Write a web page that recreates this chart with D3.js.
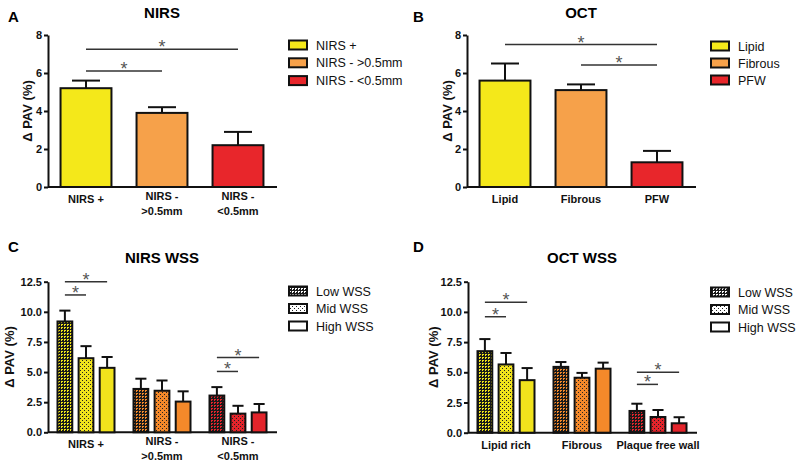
<!DOCTYPE html>
<html><head><meta charset="utf-8">
<script src="https://cdn.jsdelivr.net/npm/d3@7"></script>
<style>body{margin:0;background:#fff} text{font-family:Arial,"Liberation Sans",sans-serif}</style>
</head><body><svg id="c" width="800" height="467"></svg>
<script>
// ---------- DATA ----------
const catsA = ["NIRS +", "NIRS - >0.5mm", "NIRS - <0.5mm"];
const tickLinesA = [["NIRS +"], ["NIRS -", ">0.5mm"], ["NIRS -", "<0.5mm"]];
const legendA = ["NIRS +", "NIRS - >0.5mm", "NIRS - <0.5mm"];
const meanA = [5.2, 3.9, 2.2];
const semA = [0.4, 0.3, 0.7];
const sigA = [[0, 2, 7.25], [0, 1, 6.1]];

const catsB = ["Lipid", "Fibrous", "PFW"];
const tickLinesB = [["Lipid"], ["Fibrous"], ["PFW"]];
const legendB = ["Lipid", "Fibrous", "PFW"];
const meanB = [5.6, 5.1, 1.3];
const semB = [0.9, 0.3, 0.6];
const sigB = [[0, 2, 7.5], [1, 2, 6.42]];

const wssSeries = ["Low WSS", "Mid WSS", "High WSS"];

const catsC = ["NIRS +", "NIRS - >0.5mm", "NIRS - <0.5mm"];
const tickLinesC = [["NIRS +"], ["NIRS -", ">0.5mm"], ["NIRS -", "<0.5mm"]];
const lowC = [9.2, 3.6, 3.05];
const midC = [6.15, 3.45, 1.55];
const highC = [5.35, 2.55, 1.65];
const lowSemC = [0.9, 0.85, 0.7];
const midSemC = [1.0, 0.85, 0.65];
const highSemC = [0.9, 0.85, 0.7];
// [group, fromSeries, toSeries, y]
const sigC = [[0, 0, 2, 12.5], [0, 0, 1, 11.4], [2, 0, 2, 6.2], [2, 0, 1, 5.05]];

const catsD = ["Lipid rich", "Fibrous", "Plaque free wall"];
const tickLinesD = [["Lipid rich"], ["Fibrous"], ["Plaque free wall"]];
const lowD = [6.75, 5.45, 1.8];
const midD = [5.65, 4.55, 1.3];
const highD = [4.35, 5.3, 0.78];
const lowSemD = [1.0, 0.4, 0.6];
const midSemD = [0.95, 0.4, 0.58];
const highSemD = [1.0, 0.5, 0.5];
const sigD = [[0, 0, 2, 10.8], [0, 0, 1, 9.6], [2, 0, 2, 5.0], [2, 0, 1, 4.0]];

const ticks8 = [0, 2, 4, 6, 8];
const ticks125 = [0, 2.5, 5, 7.5, 10, 12.5];

// ---------- STYLE ----------
const colAB = ["#f4e81a", "#f6a14a", "#e8262b"];
const colCD = ["#f1e31c", "#f4892a", "#e3242b"];

const svg = d3.select("#c");
const defs = svg.append("defs");

function makePattern(id, base, type) {
  if (type === "low") {
    const p = defs.append("pattern").attr("id", id).attr("patternUnits", "userSpaceOnUse")
      .attr("width", 3).attr("height", 3);
    p.append("rect").attr("width", 3).attr("height", 3).attr("fill", "#1a1a1a");
    p.append("rect").attr("x", 1).attr("y", 1).attr("width", 2).attr("height", 1).attr("fill", base);
    p.append("rect").attr("x", 1).attr("y", 2).attr("width", 1).attr("height", 1).attr("fill", base);
  } else {
    const p = defs.append("pattern").attr("id", id).attr("patternUnits", "userSpaceOnUse")
      .attr("width", 4).attr("height", 4);
    p.append("rect").attr("width", 4).attr("height", 4).attr("fill", base);
    p.append("rect").attr("x", 0).attr("y", 0).attr("width", 1).attr("height", 1).attr("fill", "#222");
    p.append("rect").attr("x", 2).attr("y", 2).attr("width", 1).attr("height", 1).attr("fill", "#222");
  }
  return `url(#${id})`;
}

function wssFill(base, si, key) {
  if (si === 0) return makePattern("lo" + key, base, "low");
  if (si === 1) return makePattern("mi" + key, base, "mid");
  return base;
}

function drawPanel(p) {
  const g = svg.append("g").attr("transform", `translate(${p.ox},${p.oy})`);
  const x = d3.scaleBand().domain(p.cats).range(p.xRange).paddingInner(p.pin).paddingOuter(p.pout);
  const y = d3.scaleLinear().domain(p.yDomain).range(p.yRange);
  const grouped = p.series.length > 1;
  const xi = d3.scaleBand().domain(p.series.map(s => s.name)).range([0, x.bandwidth()]).paddingInner(0.3);

  // letter and title
  g.append("text").attr("x", p.letterX).attr("y", p.letterY).attr("font-size", 15)
    .attr("font-weight", "bold").text(p.letter);
  g.append("text").attr("x", (p.xRange[0] + p.xRange[1]) / 2 + 0).attr("y", p.titleY)
    .attr("text-anchor", "middle").attr("font-size", 15).attr("font-weight", "bold").text(p.title);

  // y axis
  const ya = g.append("g").attr("transform", `translate(${p.xRange[0]},0)`)
    .call(d3.axisLeft(y).tickValues(p.yTicks).tickFormat(p.yFormat).tickSize(4).tickPadding(2).tickSizeOuter(0));
  ya.selectAll("path,line").attr("stroke", "#111").attr("stroke-width", 2);
  ya.selectAll("text").attr("font-size", 11).attr("font-weight", "bold").attr("fill", "#111")
    .attr("font-family", "Arial, 'Liberation Sans', sans-serif");

  // x axis
  const xa = g.append("g").attr("transform", `translate(0,${p.yRange[0]})`)
    .call(d3.axisBottom(x).tickSize(0).tickSizeOuter(0).tickFormat(""));
  xa.select("path").attr("stroke", "#111").attr("stroke-width", 2)
    .attr("d", `M${p.xRange[0]},0H${p.xRange[1] + 1}`);
  p.cats.forEach((c, i) => {
    const lines = p.tickLines[i];
    const t = g.append("text").attr("text-anchor", "middle").attr("font-size", 11)
      .attr("font-weight", "bold").attr("fill", "#111");
    const base = lines.length > 1 ? p.yRange[0] + 13 : p.yRange[0] + 16;
    lines.forEach((l, k) => {
      t.append("tspan").attr("x", x(c) + x.bandwidth() / 2).attr("y", base + k * 14.5).text(l);
    });
  });

  // y label
  const ym = (p.yRange[0] + p.yRange[1]) / 2;
  g.append("text").attr("transform", `translate(${p.ylabX},${ym}) rotate(-90)`)
    .attr("text-anchor", "middle").attr("font-size", 13).attr("font-weight", "bold").attr("fill", "#111")
    .text("\u0394 PAV (%)");

  // bars
  p.series.forEach((s, si) => {
    p.cats.forEach((c, ci) => {
      const bx = grouped ? x(c) + xi(s.name) : x(c);
      const bw = grouped ? xi.bandwidth() : x.bandwidth();
      const v = s.values[ci], e = s.errs[ci];
      const cx = bx + bw / 2;
      const capW = grouped ? bw * 0.75 : bw * 0.55;
      g.append("line").attr("x1", cx).attr("x2", cx).attr("y1", y(v)).attr("y2", y(v + e))
        .attr("stroke", "#111").attr("stroke-width", 2);
      g.append("line").attr("x1", cx - capW / 2).attr("x2", cx + capW / 2).attr("y1", y(v + e)).attr("y2", y(v + e))
        .attr("stroke", "#111").attr("stroke-width", 2);
      g.append("rect").attr("x", bx).attr("y", y(v)).attr("width", bw).attr("height", y(0) - y(v))
        .attr("fill", s.fill(ci)).attr("stroke", "#111").attr("stroke-width", 2);
    });
  });

  // significance
  p.sig.forEach(sg => {
    let x1, x2, yy;
    if (grouped) {
      const c = p.cats[sg[0]];
      x1 = x(c) + xi(p.series[sg[1]].name) + xi.bandwidth() / 2;
      x2 = x(c) + xi(p.series[sg[2]].name) + xi.bandwidth() / 2;
      yy = y(sg[3]);
    } else {
      x1 = x(p.cats[sg[0]]) + x.bandwidth() / 2;
      x2 = x(p.cats[sg[1]]) + x.bandwidth() / 2;
      yy = y(sg[2]);
    }
    g.append("line").attr("x1", x1).attr("x2", x2).attr("y1", yy).attr("y2", yy)
      .attr("stroke", "#333").attr("stroke-width", 1.5);
    g.append("text").attr("x", (x1 + x2) / 2).attr("y", yy + 4).attr("text-anchor", "middle")
      .attr("font-size", 18).attr("fill", "#555").text("*");
  });

  // legend
  p.legend.forEach((l, i) => {
    const ly = p.legY + i * p.legStep;
    g.append("rect").attr("x", p.legX).attr("y", ly - 4.5).attr("width", 18).attr("height", 9)
      .attr("fill", l.fill).attr("stroke", "#111").attr("stroke-width", 2);
    g.append("text").attr("x", p.legX + 27).attr("y", ly + 4.5).attr("font-size", 12.5)
      .attr("fill", "#111").text(l.name);
  });
}

// Panel A
drawPanel({
  ox: 0, oy: 0, letter: "A", letterX: 8, letterY: 22, title: "NIRS", titleY: 18,
  cats: catsA, tickLines: tickLinesA, xRange: [48, 276], pin: 0.33, pout: 0.165,
  yDomain: [0, 8], yRange: [187, 35], yTicks: ticks8, yFormat: d3.format("d"), ylabX: 32,
  series: [{ name: "v", values: meanA, errs: semA, fill: i => colAB[i] }],
  sig: sigA,
  legend: legendA.map((n, i) => ({ name: n, fill: colAB[i] })), legX: 289, legY: 45, legStep: 17.8
});
// Panel B
drawPanel({
  ox: 400, oy: 0, letter: "B", letterX: 13, letterY: 22, title: "OCT", titleY: 18,
  cats: catsB, tickLines: tickLinesB, xRange: [67, 295], pin: 0.33, pout: 0.165,
  yDomain: [0, 8], yRange: [187, 35], yTicks: ticks8, yFormat: d3.format("d"), ylabX: 52,
  series: [{ name: "v", values: meanB, errs: semB, fill: i => colAB[i] }],
  sig: sigB,
  legend: legendB.map((n, i) => ({ name: n, fill: colAB[i] })), legX: 311, legY: 46, legStep: 17
});
// Panel C
const sC = [lowC, midC, highC], eC = [lowSemC, midSemC, highSemC];
drawPanel({
  ox: 0, oy: 230, letter: "C", letterX: 8, letterY: 22, title: "NIRS WSS", titleY: 33,
  cats: catsC, tickLines: tickLinesC, xRange: [48, 276], pin: 0.25, pout: 0.125,
  yDomain: [0, 12.5], yRange: [202.3, 51.7], yTicks: ticks125, yFormat: d3.format(".1f"), ylabX: 14,
  series: wssSeries.map((n, si) => ({ name: n, values: sC[si], errs: eC[si],
    fill: ci => wssFill(colCD[ci], si, "C" + ci) })),
  sig: sigC,
  legend: wssSeries.map((n, si) => ({ name: n, fill: wssFill("#ffffff", si, "LC") })),
  legX: 289, legY: 61, legStep: 17.5
});
// Panel D
const sD = [lowD, midD, highD], eD = [lowSemD, midSemD, highSemD];
drawPanel({
  ox: 400, oy: 230, letter: "D", letterX: 13, letterY: 22, title: "OCT WSS", titleY: 33,
  cats: catsD, tickLines: tickLinesD, xRange: [68, 296], pin: 0.25, pout: 0.125,
  yDomain: [0, 12.5], yRange: [202.7, 51.7], yTicks: ticks125, yFormat: d3.format(".1f"), ylabX: 38,
  series: wssSeries.map((n, si) => ({ name: n, values: sD[si], errs: eD[si],
    fill: ci => wssFill(colCD[ci], si, "D" + ci) })),
  sig: sigD,
  legend: wssSeries.map((n, si) => ({ name: n, fill: wssFill("#ffffff", si, "LD") })),
  legX: 311, legY: 62, legStep: 17.5
});
</script></body></html>
